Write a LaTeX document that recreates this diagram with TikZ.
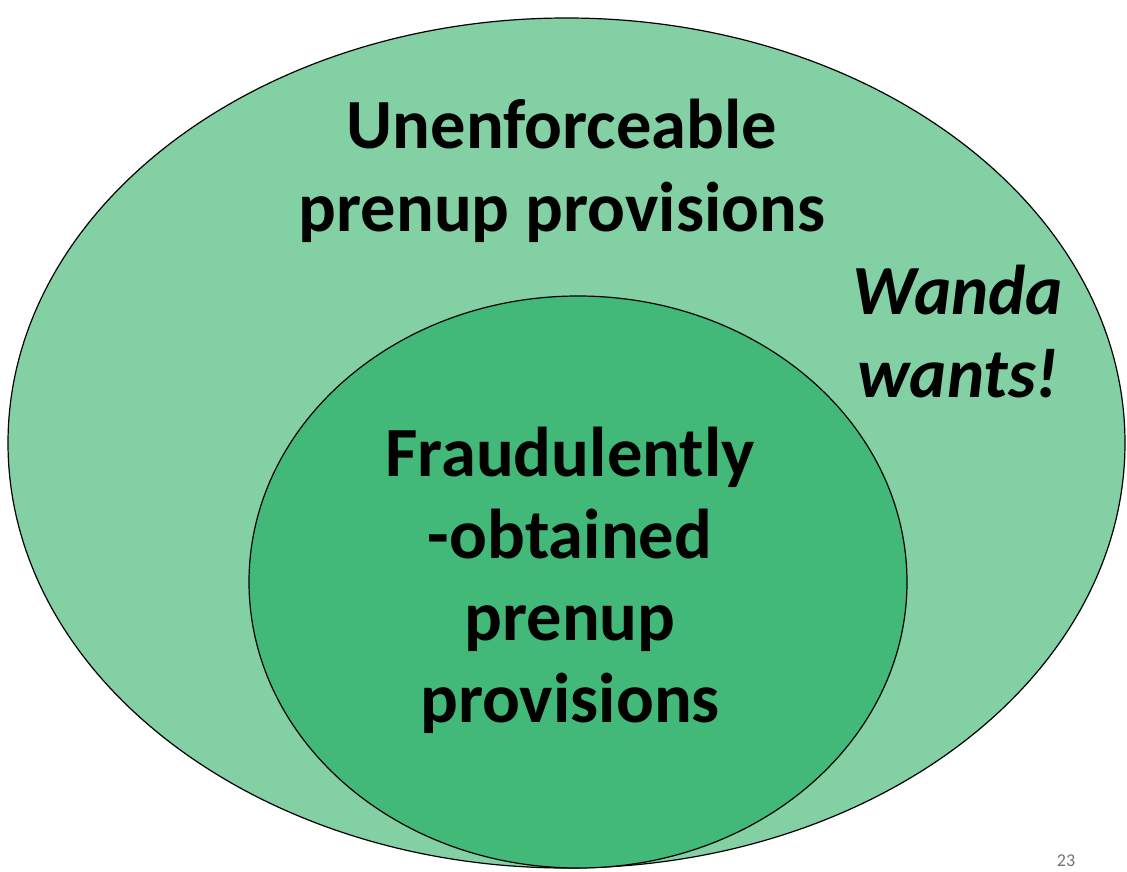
\documentclass[tikz,border=0pt]{standalone}
\usepackage{fontspec}
\setmainfont{Carlito}
\begin{document}
\begin{tikzpicture}[x=1pt,y=-1pt,
  setbox/.style={draw=black,line width=1.2pt},
  bigtext/.style={font=\fontsize{70.5}{82}\selectfont\bfseries,anchor=base,inner sep=0pt},
  sidetext/.style={font=\fontsize{70.5}{82}\selectfont\bfseries\itshape,anchor=base,inner sep=0pt}]
\definecolor{outergreen}{RGB}{130,208,164}
\definecolor{innergreen}{RGB}{66,185,120}
\useasboundingbox (0,0) rectangle (1127,872);
% outer set
\filldraw[setbox,fill=outergreen] (566.5,443) ellipse [x radius=558.5, y radius=425];
% inner set
\filldraw[setbox,fill=innergreen] (578,582) ellipse [x radius=329, y radius=286];
% labels
\node[bigtext] (u1) at (562,149) {Unenforceable};
\node[bigtext] (u2) at (562,231) {prenup provisions};
\node[sidetext] (w1) at (958,314) {Wanda};
\node[sidetext] (w2) at (958,397) {wants!};
\node[bigtext] (f1) at (570,476) {Fraudulently};
\node[bigtext] (f2) at (570,558) {-obtained};
\node[bigtext] (f3) at (570,640) {prenup};
\node[bigtext] (f4) at (570,722) {provisions};
% slide number
\node[font=\fontsize{18}{20}\selectfont,text=black!55,anchor=base,inner sep=0pt] (pg) at (1066,866) {23};
\end{tikzpicture}
\end{document}
